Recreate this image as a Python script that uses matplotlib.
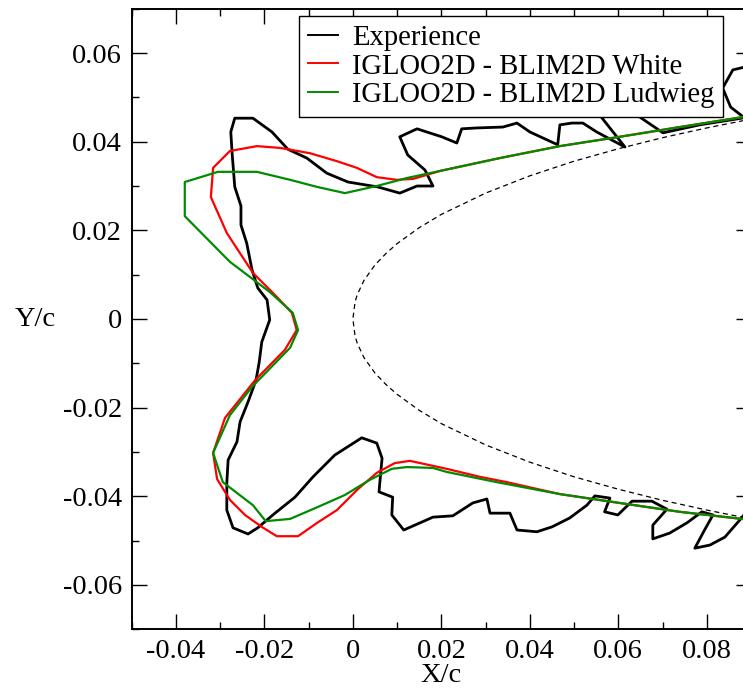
import matplotlib
matplotlib.use("Agg")
import matplotlib.pyplot as plt
from matplotlib.ticker import MultipleLocator

plt.rcParams['font.family'] = ['Liberation Serif', 'DejaVu Serif']

# Airfoil leading edge (dashed), upper half; lower half is mirrored
airfoil_x = [0.09, 0.08, 0.07, 0.06, 0.05, 0.04, 0.03, 0.02, 0.015, 0.01, 0.0075,
             0.005, 0.0025, 0.001, 0.0005, 0.0]
airfoil_y = [0.0451, 0.0431, 0.0409, 0.0384, 0.0356, 0.0323, 0.0284, 0.0236, 0.0206,
             0.0170, 0.0148, 0.0122, 0.0087, 0.0055, 0.0039, 0.0]

# Experience (black)
exp_x = [0.0897, 0.0859, 0.0836, 0.0854, 0.0885, 0.0784, 0.0701, 0.0642, 0.0603, 0.0558,
         0.0615, 0.0551, 0.0520, 0.0495,
         0.0468, 0.0463, 0.0400, 0.0371, 0.0339, 0.0280, 0.0246, 0.0235, 0.0201, 0.0145,
         0.0106, 0.0124, 0.0163, 0.0181, 0.0145, 0.0106, 0.0056, -0.0011, -0.0059, -0.0104,
         -0.0147, -0.0183, -0.0226, -0.0267, -0.0276, -0.0273, -0.0267, -0.0253, -0.0253,
         -0.0240, -0.0228, -0.0215, -0.0194, -0.0188, -0.0206, -0.0212, -0.0219, -0.0237,
         -0.0255, -0.0262, -0.0282, -0.0285, -0.0285, -0.0271, -0.0237, -0.0215, -0.0176,
         -0.0131, -0.0090, -0.0041, 0.0020, 0.0054, 0.0066, 0.0059, 0.0090, 0.0088, 0.0115,
         0.0181, 0.0226, 0.0271, 0.0303, 0.0310, 0.0355, 0.0371, 0.0416, 0.0450, 0.0490,
         0.0529, 0.0547, 0.0581, 0.0569, 0.0599, 0.0631, 0.0676, 0.0710, 0.0678, 0.0678,
         0.0716, 0.0755, 0.0789, 0.0814, 0.0795, 0.0773, 0.0807, 0.0841, 0.0875, 0.0897]
exp_y = [0.0571, 0.0562, 0.0521, 0.0478, 0.0454, 0.0438, 0.0420, 0.0460, 0.0494, 0.0460,
         0.0388, 0.0422, 0.0442, 0.0442,
         0.0438, 0.0393, 0.0422, 0.0442, 0.0433, 0.0431, 0.0429, 0.0397, 0.0411, 0.0429,
         0.0411, 0.0370, 0.0336, 0.0300, 0.0300, 0.0284, 0.0298, 0.0309, 0.0329, 0.0363,
         0.0383, 0.0422, 0.0453, 0.0453, 0.0422, 0.0374, 0.0298, 0.0255, 0.0212,
         0.0171, 0.0111, 0.0070, 0.0043, -0.0002, -0.0052, -0.0099, -0.0138, -0.0187,
         -0.0232, -0.0277, -0.0318, -0.0370, -0.0431, -0.0471, -0.0485, -0.0471, -0.0438,
         -0.0402, -0.0356, -0.0307, -0.0268, -0.0280, -0.0314, -0.0390, -0.0402, -0.0442, -0.0476,
         -0.0447, -0.0444, -0.0415, -0.0406, -0.0438, -0.0438, -0.0476, -0.0480, -0.0469, -0.0449,
         -0.0420, -0.0399, -0.0404, -0.0435, -0.0442, -0.0411, -0.0411, -0.0429, -0.0465, -0.0496,
         -0.0483, -0.0460, -0.0435, -0.0442, -0.0476, -0.0517, -0.0510, -0.0492, -0.0453, -0.0426]

# IGLOO2D - BLIM2D White (red)
white_x = [0.0897, 0.0739, 0.0603, 0.0468, 0.0332, 0.0197, 0.0136, 0.0099, 0.0054, 0.0009,
           -0.0036, -0.0097, -0.0165, -0.0217, -0.0278, -0.0316, -0.0321, -0.0285, -0.0226,
           -0.0176, -0.0138, -0.0127, -0.0154, -0.0221, -0.0289, -0.0316, -0.0307, -0.0278,
           -0.0244, -0.0206, -0.0172, -0.0124, -0.0081, -0.0036, 0.0009, 0.0054, 0.0095,
           0.0129, 0.0212, 0.0287, 0.0348, 0.0468, 0.0603, 0.0739, 0.0897]
white_y = [0.0458, 0.0433, 0.0411, 0.0390, 0.0363, 0.0334, 0.0316, 0.0314, 0.0320, 0.0341,
           0.0356, 0.0374, 0.0386, 0.0390, 0.0379, 0.0341, 0.0275, 0.0194, 0.0104,
           0.0054, 0.0014, -0.0025, -0.0070, -0.0138, -0.0223, -0.0302, -0.0361, -0.0408,
           -0.0442, -0.0469, -0.0490, -0.0490, -0.0460, -0.0431, -0.0386, -0.0347, -0.0325,
           -0.0320, -0.0338, -0.0356, -0.0368, -0.0395, -0.0415, -0.0435, -0.0453]

# IGLOO2D - BLIM2D Ludwieg (green)
ludwieg_x = [0.0897, 0.0739, 0.0603, 0.0468, 0.0332, 0.0197, 0.0122, 0.0054, -0.0018,
             -0.0081, -0.0142, -0.0217, -0.0305, -0.0380, -0.0380, -0.0278, -0.0188, -0.0136,
             -0.0124, -0.0142, -0.0228, -0.0278, -0.0316, -0.0294, -0.0226, -0.0197, -0.0142,
             -0.0079, -0.0018, 0.0038, 0.0088, 0.0122, 0.0181, 0.0212, 0.0325, 0.0468,
             0.0603, 0.0739, 0.0897]
ludwieg_y = [0.0458, 0.0433, 0.0411, 0.0390, 0.0363, 0.0334, 0.0318, 0.0300, 0.0284,
             0.0298, 0.0314, 0.0332, 0.0332, 0.0309, 0.0232, 0.0129, 0.0061, 0.0014,
             -0.0025, -0.0065, -0.0153, -0.0217, -0.0302, -0.0368, -0.0420, -0.0456, -0.0451,
             -0.0424, -0.0397, -0.0363, -0.0338, -0.0334, -0.0336, -0.0345, -0.0368, -0.0395,
             -0.0415, -0.0435, -0.0453]

labels = ["Experience", "IGLOO2D - BLIM2D White", "IGLOO2D - BLIM2D Ludwieg"]

W, H = 743, 688
fig = plt.figure(figsize=(W / 100, H / 100), dpi=100)
left_px, right_px, top_px, bot_px = 131.7, 751.0, 8.7, 629.3
ax = fig.add_axes([left_px / W, 1 - bot_px / H, (right_px - left_px) / W, (bot_px - top_px) / H])

# dashed airfoil
af_x = airfoil_x + airfoil_x[::-1][1:]
af_y = airfoil_y + [-v for v in airfoil_y[::-1][1:]]
ax.plot(af_x, af_y, color='black', lw=0.9, dashes=(4, 3))

ax.plot(exp_x, exp_y, color='black', lw=2.0, label=labels[0])
ax.plot(white_x, white_y, color='#ff0000', lw=1.6, label=labels[1])
ax.plot(ludwieg_x, ludwieg_y, color='#008c00', lw=1.6, label=labels[2])

ax.set_xlim(-0.05, 0.09)
ax.set_ylim(-0.07, 0.07)
ax.xaxis.set_major_locator(MultipleLocator(0.02))
ax.xaxis.set_minor_locator(MultipleLocator(0.01))
ax.yaxis.set_major_locator(MultipleLocator(0.02))
ax.yaxis.set_minor_locator(MultipleLocator(0.01))

def fmt(v, pos):
    if abs(v) < 1e-12:
        return "0"
    return "%.2f" % v

ax.xaxis.set_major_formatter(plt.FuncFormatter(fmt))
ax.yaxis.set_major_formatter(plt.FuncFormatter(fmt))

ax.tick_params(which='both', direction='in', top=True, right=True, width=1.0, colors='black')
ax.tick_params(which='major', length=10.5, labelsize=20.5)
ax.tick_params(axis='x', which='major', pad=7)
ax.tick_params(axis='y', which='major', pad=7)
ax.tick_params(which='minor', length=5)
for s in ax.spines.values():
    s.set_linewidth(1.4)

ax.set_xlabel("X/c", fontsize=20.5, va='center')
ax.xaxis.set_label_coords(0.5, -(675 - bot_px) / (bot_px - top_px))
ax.set_ylabel("Y/c", fontsize=20.5, rotation=0, va='center', ha='center')
ax.yaxis.set_label_coords(-(left_px - 35) / (right_px - left_px), 0.5)

leg = ax.legend(loc='upper left', bbox_to_anchor=(299 / W, 1 - 16 / H),
                bbox_transform=fig.transFigure, borderaxespad=0, fontsize=20.6,
                frameon=True, fancybox=False, framealpha=1, edgecolor='black',
                handlelength=1.05, handletextpad=0.5, labelspacing=0.1, borderpad=0.3)
leg.get_frame().set_linewidth(1.0)
for h in leg.get_lines():
    h.set_linewidth(1.4)

fig.savefig("out.png", dpi=100)
